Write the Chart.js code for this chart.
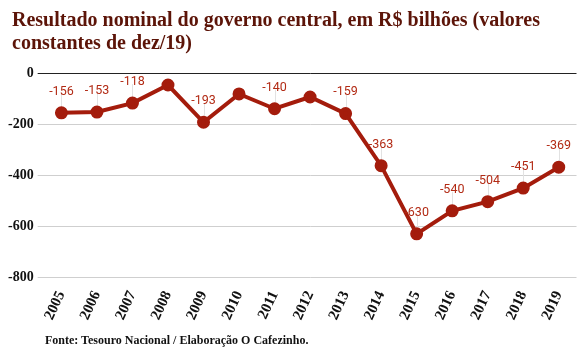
<!DOCTYPE html>
<html>
<head>
<meta charset="utf-8">
<script src="https://cdn.jsdelivr.net/npm/chart.js@4/dist/chart.umd.min.js"></script>
<style>
  body { margin: 0; background: #fff; }
  #wrap { position: relative; width: 585px; height: 360px; }
  #titulo { position: absolute; left: 12px; top: 8px; font: bold 20px "Liberation Serif", serif; color: #5c1408; line-height: 23px; }
  #fonte { position: absolute; left: 45px; top: 333px; font: bold 12px "Liberation Serif", serif; color: #111; }
  canvas { position: absolute; left: 0; top: 0; }
</style>
</head>
<body>
<div id="wrap">
  <canvas id="graf" width="585" height="360"></canvas>
  <div id="titulo">Resultado nominal do governo central, em R$ bilhões (valores<br>constantes de dez/19)</div>
  <div id="fonte">Fonte: Tesouro Nacional / Elaboração O Cafezinho.</div>
</div>
<script>
// anos e valores (R$ bilhões, dez/19)
var anos = ["2005", "2006", "2007", "2008", "2009", "2010", "2011", "2012", "2013", "2014", "2015", "2016", "2017", "2018", "2019"];
var resultado = [-156, -153, -118, -47, -193, -82, -140, -94, -159, -363, -630, -540, -504, -451, -369];
// rótulos exibidos (null = sem rótulo)
var rotulos = ["-156", "-153", "-118", null, "-193", null, "-140", null, "-159", "-363", "-630", "-540", "-504", "-451", "-369"];
var yTicks = [0, -200, -400, -600, -800];

var rotuloPlugin = {
  id: 'rotulos',
  beforeDatasetsDraw: function(chart) {
    var ctx = chart.ctx;
    var pts = chart.getDatasetMeta(0).data;
    ctx.save();
    ctx.strokeStyle = '#e2e2e2';
    ctx.lineWidth = 1;
    pts.forEach(function(p, i) {
      if (!rotulos[i]) return;
      ctx.beginPath();
      ctx.moveTo(Math.round(p.x) + 0.5, p.y);
      ctx.lineTo(Math.round(p.x) + 0.5, p.y - 19);
      ctx.stroke();
    });
    ctx.restore();
  },
  afterDatasetsDraw: function(chart) {
    var ctx = chart.ctx;
    var pts = chart.getDatasetMeta(0).data;
    ctx.save();
    ctx.font = '12.5px Roboto';
    ctx.fillStyle = '#b22a14';
    ctx.textAlign = 'center';
    ctx.textBaseline = 'bottom';
    pts.forEach(function(p, i) {
      if (!rotulos[i]) return;
      ctx.fillText(rotulos[i], p.x, p.y - 15);
    });
    ctx.restore();
  }
};

new Chart(document.getElementById("graf"), {
  type: 'line',
  data: {
    labels: anos,
    datasets: [{
      data: resultado,
      borderColor: '#a41c0c',
      backgroundColor: '#a41c0c',
      borderWidth: 4,
      pointRadius: 4.5,
      pointHoverRadius: 4.5,
      tension: 0,
      fill: false
    }]
  },
  options: {
    responsive: false,
    animation: false,
    layout: { padding: { top: 73, bottom: 34, right: 2, left: 4 } },
    plugins: { legend: { display: false }, tooltip: { enabled: false } },
    scales: {
      x: {
        offset: true,
        grid: { display: false },
        border: { display: false },
        ticks: {
          minRotation: 65, maxRotation: 65,
          color: '#111',
          font: { family: 'Liberation Serif', weight: 'bold', size: 15 }
        }
      },
      y: {
        min: -800, max: 0,
        afterBuildTicks: function(axis) { axis.ticks = yTicks.map(function(v) { return { value: v }; }); },
        border: { display: false },
        grid: {
          color: function(c) { return c.tick && c.tick.value === 0 ? '#222' : '#cfcfcf'; },
          lineWidth: 1,
          drawTicks: true,
          tickLength: 6
        },
        ticks: {
          color: '#111',
          padding: 4,
          font: { family: 'Liberation Serif', weight: 'bold', size: 14 }
        }
      }
    }
  },
  plugins: [rotuloPlugin]
});
</script>
</body>
</html>
